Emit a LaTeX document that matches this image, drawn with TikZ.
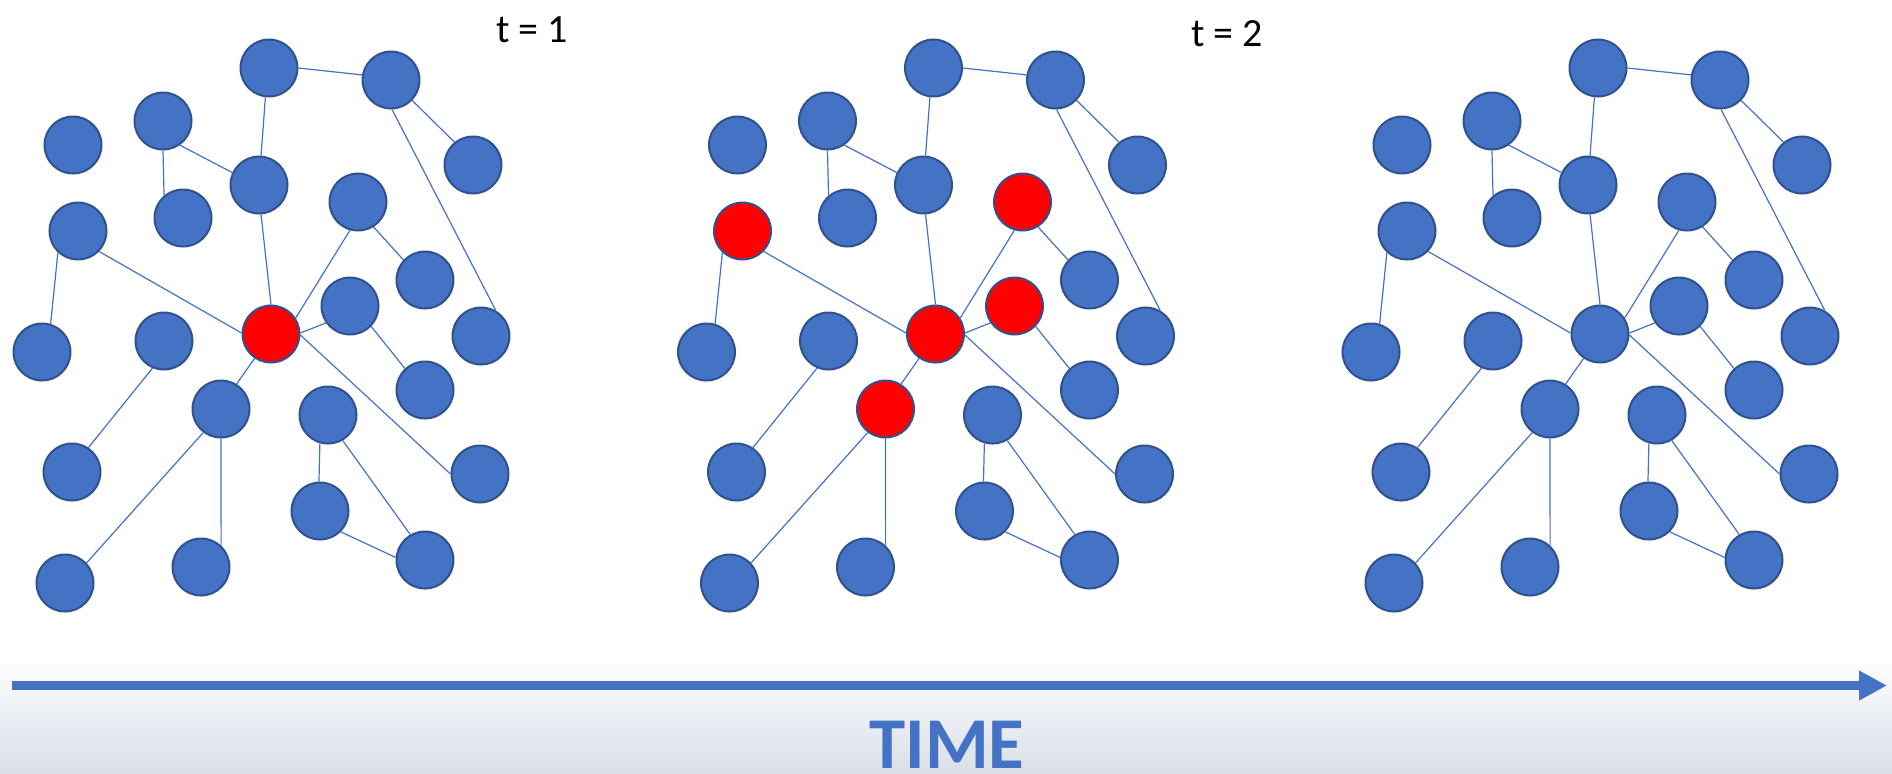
\documentclass[tikz,border=0pt]{standalone}
\usepackage{fontspec}
\setmainfont{Carlito}
\usepackage{xcolor}
\definecolor{netblue}{RGB}{68, 114, 196}
\definecolor{netrim}{RGB}{47, 82, 143}
\definecolor{fadegray}{RGB}{218, 223, 232}
\usetikzlibrary{arrows.meta}

\begin{document}
\begin{tikzpicture}[
    x=0.5pt, y=-0.5pt,
    dot/.style={circle, minimum size=28.5pt, inner sep=0pt, draw=netrim, line width=1pt, fill=netblue},
    hot/.style={fill=red},
    link/.style={netblue, line width=0.6pt},
    timeline/.style={netblue, line width=4.5pt, -{Triangle[length=14pt, width=14pt]}},
    stamp/.style={anchor=base, font=\fontsize{20}{24}\selectfont},
    % infected nodes per panel
    aR/.style={hot},
    bR/.style={hot}, bH/.style={hot}, bI/.style={hot}, bK/.style={hot}, bP/.style={hot}
]

\useasboundingbox (0,0) rectangle (1892,773);
\fill[top color=white, bottom color=fadegray] (0,655) rectangle (1892,773);

% Three snapshots of the same network
\foreach \p/\dx in {a/0, b/664.5, c/1329} {
  \foreach \n/\x/\y in {A/269/68, B/391/80, C/163/121, D/73/145, E/473/165,
      F/259/185, G/183/218, H/78/231, I/358/202, J/425/280, K/350/306,
      L/481/336, M/42/352, N/164/341, R/271/334, O/425/390, P/221/409,
      Q/328/415, S/480/474, T/72/472, U/320/511, V/425/560, W/65/583, X/201/567}
    \node[dot, \p\n/.try] (\p\n) at (\x+\dx,\y) {};
  % links attach at fixed points of the circles
  \foreach \u/\a/\v/\b in {A/0/B/170, A/-97/F/86, B/-44/E/129, B/-88/L/60,
      C/-55/F/155, C/-90/G/130, F/-86/R/90, H/-44/R/178, H/-133/M/73,
      I/-106/R/33, I/-58/J/137, K/-145/R/2, K/-44/O/133, R/-2/S/180,
      R/-124/P/58, N/-113/T/56, P/-127/W/43, P/-90/X/47, Q/-106/U/92,
      Q/-60/V/120, U/-45/V/175}
    \draw[link] (\p\u.\a) -- (\p\v.\b);
}

% Labels
\node[stamp] (t1) at (532,42) {t = 1};
\node[stamp] (t2) at (1227,46) {t = 2};

% Time axis
\coordinate (tstart) at (12,685.5);
\coordinate (tend) at (1887,685.5);
\draw[timeline] (tstart) -- (tend);
\node[netblue, anchor=base, inner sep=0pt, font=\fontsize{36.5}{40}\selectfont\bfseries] (time) at (947,768) {TIME};

\end{tikzpicture}
\end{document}
